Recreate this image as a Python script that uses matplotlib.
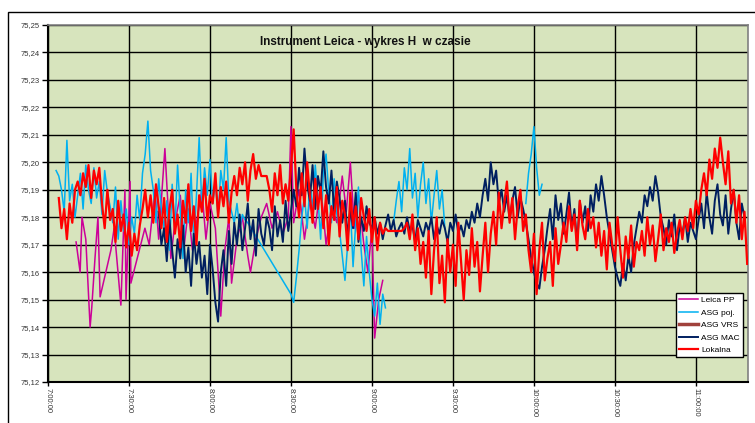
import numpy as np
import matplotlib
matplotlib.use("Agg")
import matplotlib.pyplot as plt
from matplotlib.patches import Rectangle
from matplotlib.ticker import FuncFormatter, MultipleLocator

plt.rcParams['font.family'] = ['Liberation Sans', 'DejaVu Sans']

# ---- data (heights as mm above 75.000 m; time in minutes after 7:00) ----
BASE_M = 75.0

# Lokalna: sampled every minute starting at t=4
lokalna_start = 4
lokalna_mm = [
    187, 176, 183, 172, 185, 178, 190,
    193, 188, 196, 191, 199, 187, 197, 192, 198,
    185, 176, 190, 179, 183, 171, 186, 175, 181, 169, 178,
    166, 174, 168, 177,
    183, 190, 180, 188, 178, 192, 184,
    176, 187, 171, 183, 190, 174, 181, 169, 186, 178, 192, 175, 184, 170, 188,
    182, 194, 179, 188, 185, 196, 180, 191, 184, 193, 178, 189, 195,
    188, 198, 192, 200, 186, 197, 203, 194, 199,
    195, 195, 195, 190, 182, 196, 188, 199, 185, 192,
    186, 198, 212, 190, 180, 196, 184, 200, 188, 178, 194, 183, 191,
    176, 188, 170, 184, 179, 191, 173, 186, 181, 168, 189, 177, 184, 172, 187, 180, 175, 183,
    171, 180, 168, 178, 174, 176, 175, 175, 175, 175, 175,
    175, 176, 178, 172, 181, 168, 176, 163,
    171, 158, 175, 152, 168, 180, 156, 166, 149, 172, 160,
    170, 155, 178, 164, 150, 168, 159, 176, 162, 171, 153, 166, 178, 160, 174,
    182, 170, 189, 176, 185, 193, 178, 187, 172, 184, 190, 175, 181, 168,
    160, 174, 152, 168, 178, 157, 165, 171, 155, 176, 163, 170,
    178, 171, 184, 175, 181, 168, 186, 177, 172, 183, 176, 180, 169, 178,
    166, 175, 161, 178, 170, 164, 180, 168, 158, 173, 165, 177, 162, 171, 168,
    175, 166, 180, 170, 177, 164, 172, 181, 168, 176, 171, 178, 167, 174, 179,
    172, 180, 175, 183, 176, 186, 181,
    190, 196, 188, 201, 194, 205, 198, 209,
    200, 192, 204, 185, 190, 178, 188, 172, 182, 163,
]

# ASG MAC: sampled every minute starting at t=41
mac_start = 41
mac_mm = [
    182, 170, 176, 164, 179, 168, 158, 172, 165, 177, 160, 169, 155, 174, 163, 171,
    158, 166, 152, 170, 161, 149, 142, 160, 168, 155, 175, 163, 178,
    170, 181, 168, 176, 185, 172, 179, 166, 183, 174, 170, 180, 176, 168, 184, 173, 179, 171, 186, 175, 182,
    190, 184, 198, 188, 205, 192, 186, 199, 183, 195, 189, 204, 191, 185, 197, 182, 193, 187,
    178, 186, 173, 183, 176, 189, 171, 180, 175, 184, 178,
    176, 180, 174, 178, 172, 177, 181, 175, 179, 173, 176, 178, 174, 180, 175, 177, 171, 179, 176, 173,
    178, 175, 180, 172, 177, 174, 179, 176, 171, 178, 175, 181, 174, 177, 173, 179, 176, 182, 178, 185, 180,
    188, 194, 186, 200, 192, 197, 185,
    190, 182, 188, 179, 186, 191, 180, 187, 183, 178, 172,
    165, 160, 156, 154, 162, 168,
    176, 183, 172, 188, 179, 185, 174, 181, 189, 176, 183, 170, 186, 178, 184, 175, 188, 182,
    192, 186, 195, 188, 180, 174, 168,
    162, 158, 155, 163, 157, 166, 160, 170, 176,
    182, 178, 188, 184, 191, 186, 195, 189, 180,
    176, 170, 179, 173, 181, 168, 177, 174, 180, 171, 178, 175, 172, 179,
    185, 176, 189, 180, 174, 186, 192, 181, 177, 188, 174, 183, 190, 178, 172, 185, 180,
]

# ASG poj.: segments sampled every minute (start minute, values); gap flags break the line
poj_seg_starts = [3, 90, 128, 177]
poj_seg_breaks = [False, False, True, True]   # True = line not joined to previous segment
poj_seg_mm = [
    [197, 195, 190, 182, 208, 186, 192, 180,
     188, 196, 183, 199, 190, 185, 198, 187, 193, 181, 197, 189, 184,
     178, 191, 172, 186, 175, 183, 170,
     180, 174, 188, 179, 196, 203, 215, 197,
     190, 178, 194, 183, 176,
     186, 168, 192, 175, 199, 182, 165, 190, 178, 196, 171, 188, 209,
     184, 198, 188, 201, 185, 193, 180, 197, 190, 209, 186,
     182, 178, 185, 176, 181, 179, 178],
    [152, 149, 158, 168, 180, 188,
     176, 192, 183, 199, 187, 172, 196, 203, 189, 178, 194, 181, 175,
     166, 157, 170, 184, 162, 178, 191, 168, 155, 173, 160,
     150, 144, 156, 141, 152, 147],
    [178, 186, 193, 182, 198, 190, 205, 187, 196, 180, 192, 200, 185, 194, 178, 188, 197, 183, 190, 176],
    [185, 196, 203, 213, 198, 188, 192],
]

# Leica PP: irregular observation times
leica_t = [10.4, 11.9, 12.6, 14, 15.6, 16.2, 17.4, 18.5, 19.3, 23.3, 24.5, 27, 28.5, 28.9, 30.4, 30.7,
           35.9, 37.5, 39.6, 41, 43.3, 45.5, 47, 49, 50.5, 52, 53.5, 55, 57, 58.5, 60, 62, 64, 65.5,
           67, 68, 70, 72, 74, 75, 77, 79, 81, 83, 85, 87, 89, 90, 91, 93, 95, 97, 99, 101, 103, 105,
           107, 109, 110.5, 112, 113.5, 115, 117, 118.5, 120, 121, 122.5, 124]
leica_mm = [171, 160, 180, 172, 140, 147, 165, 180, 151, 168, 176, 148, 190, 150, 193, 156,
            176, 170, 190, 172, 205, 165, 178, 188, 170, 183, 168, 178, 190, 172, 185, 176, 144, 168,
            180, 156, 172, 180, 166, 160, 172, 180, 185, 176, 182, 174, 180, 213, 178, 190, 172, 186, 176, 192, 170, 184,
            178, 195, 182, 200, 176, 188, 170, 160, 176, 136, 150, 157]

# ASG VRS: no visible samples in the chart (legend only)
vrs_t = []
vrs_mm = []

series_names = ["Leica PP", "ASG poj.", "ASG VRS", "ASG MAC", "Lokalna"]
tick_minutes = [0, 30, 60, 90, 120, 150, 180, 210, 240]
y_ticks_m = [75.12, 75.13, 75.14, 75.15, 75.16, 75.17, 75.18, 75.19, 75.20, 75.21, 75.22, 75.23, 75.24, 75.25]
title = "Instrument Leica - wykres H  w czasie"

# ---- build arrays ----
def to_m(mm):
    return BASE_M + np.asarray(mm, dtype=float) / 1000.0

lok_t = lokalna_start + np.arange(len(lokalna_mm))
mac_t = mac_start + np.arange(len(mac_mm))
poj_t, poj_v = [], []
for s, brk, vals in zip(poj_seg_starts, poj_seg_breaks, poj_seg_mm):
    if brk:
        poj_t.append(np.array([s - 0.5]))
        poj_v.append(np.array([np.nan]))
    poj_t.append(s + np.arange(len(vals)))
    poj_v.append(to_m(vals))
poj_t = np.concatenate(poj_t)
poj_v = np.concatenate(poj_v)

# ---- figure ----
W, H = 755, 423
fig = plt.figure(figsize=(W / 100, H / 100), dpi=100)
fig.patch.set_facecolor("white")

ax = fig.add_axes([48 / W, 1 - 382 / H, 700 / W, 357 / H])
ax.set_facecolor("#D7E4BD")

colors = {"Leica PP": "#CC0099", "ASG poj.": "#00B0F0", "ASG VRS": "#A0413C",
          "ASG MAC": "#001F60", "Lokalna": "#FF0000"}

ax.plot(leica_t, to_m(leica_mm), color=colors["Leica PP"], lw=1.1, label="Leica PP", zorder=3)
ax.plot(poj_t, poj_v, color=colors["ASG poj."], lw=1.1, label="ASG poj.", zorder=3)
ax.plot(vrs_t, to_m(vrs_mm), color=colors["ASG VRS"], lw=2.5, label="ASG VRS", zorder=3)
ax.plot(mac_t, to_m(mac_mm), color=colors["ASG MAC"], lw=1.4, label="ASG MAC", zorder=4)
ax.plot(lok_t, to_m(lokalna_mm), color=colors["Lokalna"], lw=1.6, label="Lokalna", zorder=5)

ax.set_xlim(0, 259.3)
ax.set_ylim(75.12, 75.25)
ax.set_yticks(y_ticks_m)
ax.set_xticks(tick_minutes)
ax.yaxis.set_major_formatter(FuncFormatter(lambda v, p: f"{v:.2f}".replace(".", ",")))
ax.xaxis.set_major_formatter(FuncFormatter(lambda v, p: f"{7 + int(v) // 60}:{int(v) % 60:02d}:00"))
ax.grid(True, color="black", lw=1.0, zorder=1)
ax.set_axisbelow(True)

ax.tick_params(axis="y", labelsize=5.5, direction="out", length=4, width=1, colors="black",
               labelcolor="#333333", pad=2)
ax.tick_params(axis="x", labelsize=5.5, direction="out", length=3, width=1, labelcolor="#333333",
               labelrotation=270, pad=1)
for lab in ax.get_xticklabels():
    lab.set_va("top")
    lab.set_ha("center")

for side in ["top", "right"]:
    ax.spines[side].set_color("#808080")
    ax.spines[side].set_linewidth(1.2)
for side in ["left", "bottom"]:
    ax.spines[side].set_color("black")
    ax.spines[side].set_linewidth(1.5)

ax.text(0.453, 0.952, title, transform=ax.transAxes, ha="center", va="center",
        fontsize=8.5, fontweight="bold", color="#111111", zorder=6)

leg = ax.legend(loc="upper right", bbox_to_anchor=(0.993, 0.249), fontsize=6,
                frameon=True, fancybox=False, framealpha=1, edgecolor="black",
                handlelength=2.2, handletextpad=0.4, borderpad=0.4, labelspacing=0.55,
                borderaxespad=0)
leg.get_frame().set_linewidth(1.0)
leg.set_zorder(10)

# outer chart frame
fig.patches.append(Rectangle((8 / W, -0.1), 2, 1.1 - 12 / H, transform=fig.transFigure,
                             fill=False, edgecolor="black", lw=1.0))

fig.savefig("out.png", dpi=100)
